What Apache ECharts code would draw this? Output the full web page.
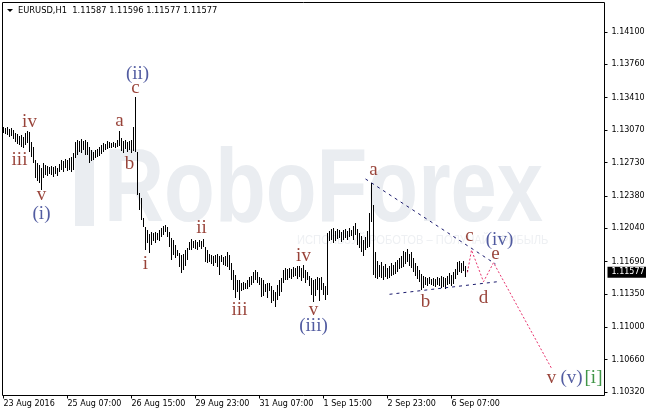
<!DOCTYPE html>
<html><head><meta charset="utf-8">
<script src="https://cdn.jsdelivr.net/npm/echarts@6/dist/echarts.min.js"></script>
<style>html,body{margin:0;padding:0;background:#fff}#c{width:646px;height:414px}</style>
</head><body><div id="c"></div>
<script>
// ---------- data ----------
const symbolName = 'EURUSD,H1';
const lastOHLC = [1.11587, 1.11596, 1.11577, 1.11577];
const lastPrice = 1.11577;
const startTime = Date.UTC(2016, 7, 23, 23); // first visible H1 bar
const totalSlots = 301;                        // bars + empty right area

const highs = [
1.13103,1.13092,1.13103,1.13082,1.13092,1.13071,1.13040,1.13029,1.13008,1.13019,
1.12998,1.13040,1.13061,1.13050,1.12945,1.12893,1.12756,1.12725,1.12704,1.12672,
1.12725,1.12704,1.12693,1.12683,1.12693,1.12683,1.12693,1.12672,1.12714,1.12756,
1.12746,1.12767,1.12756,1.12777,1.12788,1.12830,1.12945,1.12966,1.12956,1.12977,
1.12956,1.12966,1.12945,1.12893,1.12861,1.12840,1.12861,1.12872,1.12893,1.12914,
1.12935,1.12924,1.12956,1.12945,1.12935,1.12945,1.12935,1.12966,1.13061,1.12987,
1.12956,1.12966,1.12945,1.12956,1.12966,1.13103,1.13418,1.12840,1.12410,1.12357,
1.12147,1.12053,1.12021,1.11979,1.12000,1.11990,1.12000,1.11990,1.12021,1.12042,
1.12063,1.12074,1.12053,1.12000,1.11937,1.11916,1.11864,1.11811,1.11780,1.11759,
1.11769,1.11811,1.11832,1.11895,1.11927,1.11906,1.11916,1.11895,1.11916,1.11906,
1.11927,1.11843,1.11811,1.11769,1.11759,1.11748,1.11759,1.11769,1.11748,1.11759,
1.11738,1.11748,1.11790,1.11759,1.11675,1.11601,1.11549,1.11496,1.11496,1.11465,
1.11475,1.11465,1.11496,1.11528,1.11538,1.11580,1.11601,1.11580,1.11528,1.11517,
1.11496,1.11454,1.11465,1.11465,1.11433,1.11391,1.11370,1.11444,1.11496,1.11517,
1.11601,1.11622,1.11612,1.11622,1.11612,1.11633,1.11622,1.11643,1.11643,1.11622,
1.11654,1.11601,1.11580,1.11538,1.11517,1.11496,1.11507,1.11528,1.11517,1.11528,
1.11465,1.11433,1.11990,1.12011,1.12032,1.12042,1.12011,1.12032,1.12021,1.12000,
1.12021,1.12032,1.12011,1.12042,1.12021,1.12063,1.12095,1.12032,1.11990,1.11958,
1.11916,1.11948,1.12011,1.12200,1.12515,1.12284,1.11790,1.11696,1.11654,1.11685,
1.11643,1.11664,1.11622,1.11643,1.11675,1.11654,1.11685,1.11706,1.11727,1.11748,
1.11801,1.11790,1.11822,1.11769,1.11790,1.11727,1.11675,1.11643,1.11601,1.11559,
1.11538,1.11528,1.11517,1.11528,1.11507,1.11517,1.11507,1.11528,1.11517,1.11538,
1.11528,1.11517,1.11538,1.11570,1.11549,1.11580,1.11612,1.11685,1.11696,1.11675,
1.11696,1.11643,1.11596
];
const lows = [
1.13040,1.13029,1.13019,1.12998,1.13008,1.12977,1.12945,1.12924,1.12914,1.12893,
1.12882,1.12914,1.12935,1.12840,1.12788,1.12725,1.12567,1.12536,1.12515,1.12441,
1.12567,1.12599,1.12588,1.12609,1.12599,1.12578,1.12609,1.12588,1.12630,1.12651,
1.12630,1.12672,1.12641,1.12651,1.12630,1.12651,1.12777,1.12809,1.12840,1.12830,
1.12861,1.12809,1.12809,1.12725,1.12746,1.12756,1.12777,1.12788,1.12798,1.12819,
1.12840,1.12861,1.12872,1.12882,1.12882,1.12893,1.12882,1.12893,1.12903,1.12851,
1.12830,1.12872,1.12840,1.12861,1.12830,1.12851,1.12840,1.12389,1.12231,1.12126,
1.12053,1.11811,1.11885,1.11780,1.11864,1.11906,1.11885,1.11916,1.11906,1.11948,
1.11969,1.12000,1.11948,1.11843,1.11706,1.11759,1.11727,1.11748,1.11633,1.11570,
1.11601,1.11643,1.11706,1.11811,1.11811,1.11832,1.11822,1.11811,1.11843,1.11822,
1.11843,1.11685,1.11675,1.11685,1.11664,1.11643,1.11675,1.11633,1.11549,1.11685,
1.11654,1.11643,1.11633,1.11601,1.11496,1.11391,1.11307,1.11370,1.11286,1.11381,
1.11391,1.11402,1.11402,1.11423,1.11444,1.11465,1.11496,1.11465,1.11444,1.11318,
1.11328,1.11370,1.11307,1.11381,1.11255,1.11276,1.11213,1.11286,1.11328,1.11370,
1.11465,1.11496,1.11496,1.11517,1.11507,1.11528,1.11538,1.11507,1.11528,1.11486,
1.11517,1.11465,1.11496,1.11433,1.11339,1.11265,1.11328,1.11391,1.11276,1.11391,
1.11339,1.11286,1.11339,1.11906,1.11916,1.11885,1.11906,1.11927,1.11937,1.11895,
1.11916,1.11937,1.11916,1.11948,1.11958,1.11916,1.11969,1.11864,1.11832,1.11790,
1.11748,1.11811,1.11832,1.11843,1.12105,1.11549,1.11517,1.11507,1.11528,1.11517,
1.11496,1.11528,1.11507,1.11517,1.11538,1.11549,1.11559,1.11580,1.11612,1.11622,
1.11633,1.11664,1.11685,1.11643,1.11622,1.11580,1.11538,1.11507,1.11475,1.11391,
1.11412,1.11444,1.11433,1.11454,1.11444,1.11433,1.11423,1.11444,1.11433,1.11412,
1.11423,1.11402,1.11444,1.11454,1.11433,1.11454,1.11507,1.11549,1.11580,1.11570,
1.11591,1.11528,1.11577
];

const yTicks = [1.14100,1.13760,1.13410,1.13070,1.12730,1.12380,1.12040,1.11690,1.11350,1.11000,1.10660,1.10320];
const xTickTimes = ['23 Aug 23:00','25 Aug 07:00','26 Aug 15:00','29 Aug 23:00','31 Aug 07:00','1 Sep 15:00','2 Sep 23:00','6 Sep 07:00'];
const xTickTexts = ['23 Aug 2016','25 Aug 07:00','26 Aug 15:00','29 Aug 23:00','31 Aug 07:00','1 Sep 15:00','2 Sep 23:00','6 Sep 07:00'];

// annotation lines: [barIndex, price]
const upperTrend = [[181,1.12557],[246,1.11664]];
const lowerTrend = [[193,1.11346],[247,1.11478]];
const forecastPath = [[232,1.11577],[234,1.11811],[240,1.11478],[245,1.11678],[274,1.10569]];

// wave labels: [barIndex, price, text, kind]
const waveLabels = [
  [8,1.12751,'iii','minor'],[13,1.13150,'iv','minor'],[19,1.12389,'v','minor'],[19,1.12194,'(i)','inter'],
  [58,1.13166,'a','minor'],[63,1.12719,'b','minor'],[66,1.13517,'c','minor'],[67,1.13664,'(ii)','inter'],
  [71,1.11669,'i','minor'],[99,1.12037,'ii','minor'],[118,1.11176,'iii','minor'],[150,1.11753,'iv','minor'],
  [155,1.11176,'v','minor'],[155,1.11008,'(iii)','inter'],
  [185,1.12656,'a','minor'],[211,1.11270,'b','minor'],[233,1.11953,'c','minor'],[248,1.11911,'(iv)','inter'],
  [246,1.11774,'e','minor'],[240,1.11309,'d','minor'],
  [274,1.10462,'v','minor'],[284,1.10462,'(v)','inter'],[295,1.10462,'[i]','primary']
];

// ---------- build ----------
const MONTHS = ['Jan','Feb','Mar','Apr','May','Jun','Jul','Aug','Sep','Oct','Nov','Dec'];
function fmt(t){const d=new Date(t);return d.getUTCDate()+' '+MONTHS[d.getUTCMonth()]+' '+String(d.getUTCHours()).padStart(2,'0')+':00';}
const categories = [];
for (let t = startTime; categories.length < totalSlots; t += 3600000) {
  const dow = new Date(t).getUTCDay();
  if (dow !== 0 && dow !== 6) categories.push(fmt(t));
}
const tickMap = {};
xTickTimes.forEach((k,i)=>{tickMap[k]=xTickTexts[i];});
const barData = highs.map((h,i)=>[i, lows[i], h]);
const labelColors = {minor:'#7e1306', inter:'#27338a', primary:'#0f7a18'};

const yMax = 1.144097, yMin = 1.102833;
const axisFont = {fontFamily:'DejaVu Sans', fontSize:8, color:'#000'};
const wmColor = '#eaedf1';

const chart = echarts.init(document.getElementById('c'), null, {renderer:'canvas'});
chart.setOption({
  animation:false,
  backgroundColor:'#fff',
  grid:{left:2.5, top:2.5, right:41.5, bottom:18.5, containLabel:false, outerBoundsMode:'none',
        show:true, borderColor:'#000', borderWidth:1, backgroundColor:'transparent'},
  graphic:[
    {type:'rect', z:0, shape:{x:75,y:150,width:19,height:76}, style:{fill:wmColor}},
    {type:'text', z:0, x:104, y:140, scaleX:0.8, style:{text:'RoboForex', font:'bold 104px "Liberation Sans"', fill:wmColor, verticalAlign:'top'}},
    {type:'text', z:0, x:297, y:240, scaleX:0.86, style:{text:'ИСПОЛЬЗУЙ РОБОТОВ – ПОЛУЧАЙ ПРИБЫЛЬ', font:'13px "Liberation Sans"', fill:'#eef0f3', verticalAlign:'middle'}},
    {type:'polygon', z:5, shape:{points:[[7,9],[13,9],[10,12]]}, style:{fill:'#000'}},
    {type:'text', z:5, x:18, y:10.5, style:{text:symbolName+'  '+lastOHLC.map(v=>v.toFixed(5)).join(' '), font:'8.3px "DejaVu Sans"', fill:'#000', verticalAlign:'middle'}}
  ],
  xAxis:{
    type:'category', data:categories, boundaryGap:true,
    axisLine:{show:false},
    axisTick:{show:true, alignWithLabel:true, length:3, interval:(i,v)=>tickMap[v]!==undefined, lineStyle:{color:'#000'}},
    axisLabel:Object.assign({show:true, interval:(i,v)=>tickMap[v]!==undefined, formatter:(v)=>tickMap[v]||'', align:'left', margin:4, hideOverlap:false}, axisFont),
    splitLine:{show:false}
  },
  yAxis:[{
    type:'value', position:'right', min:yMin, max:yMax, scale:true,
    axisLine:{show:false},
    axisTick:{show:true, length:3, customValues:yTicks, lineStyle:{color:'#000'}},
    axisLabel:Object.assign({show:true, customValues:yTicks, formatter:(v)=>v.toFixed(5), margin:7}, axisFont),
    splitLine:{show:false}
  },{
    type:'value', position:'right', min:yMin, max:yMax, scale:true,
    axisLine:{show:false}, axisTick:{show:false}, splitLine:{show:false},
    axisLabel:Object.assign({}, axisFont, {show:true, customValues:[lastPrice], formatter:(v)=>v.toFixed(5), color:'#fff', backgroundColor:'#000', padding:[2,4,1,4], margin:3})
  }],
  series:[
    {
      type:'custom', z:3, data:barData,
      encode:{x:0, y:[1,2]},
      renderItem:(params, api)=>{
        const p1 = api.coord([api.value(0), api.value(1)]);
        const p2 = api.coord([api.value(0), api.value(2)]);
        const x = Math.floor(p1[0]) + 0.5;
        let y1 = Math.round(p1[1]), y2 = Math.round(p2[1]);
        if (y1 - y2 < 1) y1 = y2 + 1;
        return {type:'line', shape:{x1:x, y1:y1, x2:x, y2:y2}, style:{stroke:'#000', lineWidth:1}};
      }
    },
    {type:'line', z:4, data:upperTrend, symbol:'none', silent:true, lineStyle:{color:'#1c1c6e', width:1, type:[3,4]}},
    {type:'line', z:4, data:lowerTrend, symbol:'none', silent:true, lineStyle:{color:'#1c1c6e', width:1, type:[3,4]}},
    {type:'line', z:4, data:forecastPath, symbol:'none', silent:true, lineStyle:{color:'#e8336d', width:1, type:[2,2]}},
    {
      type:'scatter', z:6, symbolSize:0, silent:true,
      data:waveLabels.map(w=>({value:[w[0], w[1]], label:{formatter:w[2], color:labelColors[w[3]]}})),
      label:{show:true, position:'inside', fontFamily:'Liberation Serif', fontSize:19}
    }
  ]
});
</script>
</body></html>
